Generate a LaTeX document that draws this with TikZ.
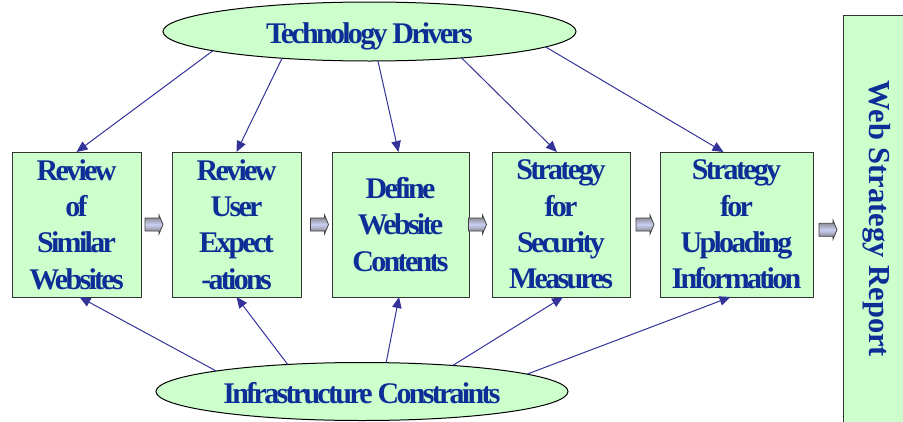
\documentclass[tikz,border=0pt]{standalone}
\usepackage{fontspec}
\setmainfont{Liberation Serif}
\usetikzlibrary{arrows.meta,calc,shapes.geometric}

\definecolor{boxfill}{RGB}{204,255,204}
\definecolor{inkblue}{RGB}{12,46,150}
\definecolor{linkblue}{RGB}{51,51,153}
\definecolor{arrowmid}{RGB}{204,208,242}

% condensed bold serif used for the stage and driver labels
\newcommand{\tightbold}{\bfseries\fontsize{30}{36.3}\selectfont\addfontfeatures{LetterSpace=-9}}

\tikzset{
  stage/.style={draw=black!80, line width=1pt, fill=boxfill, text=inkblue,
    align=center, inner sep=0pt, outer sep=0pt, minimum height=145pt, font=\tightbold},
  driver/.style={ellipse, draw=black, line width=1pt, fill=boxfill, text=inkblue,
    inner sep=0pt, outer sep=0pt, text height=23pt, text depth=0pt, font=\tightbold},
  link/.style={draw=linkblue, line width=1pt, -{Triangle[length=11pt,width=9.5pt]}},
  pics/blockarrow/.style={code={
    \shade[top color=black!55, bottom color=black!55, middle color=arrowmid,
           draw=black!75, line width=0.8pt]
      (-9,-6.5) -- (5,-6.5) -- (5,-9.5) -- (9,0) -- (5,9.5) -- (5,6.5) -- (-9,6.5) -- cycle;
  }}
}

\begin{document}
\begin{tikzpicture}[x=1pt,y=-1pt]
\useasboundingbox (0,0) rectangle (903,421);
\clip (0,0) rectangle (903,421);

% report column on the right
\node[draw=black!80, line width=1pt, fill=boxfill, minimum width=90pt, minimum height=440pt,
      anchor=north west, inner sep=0pt, outer sep=0pt] (rep) at (843,15) {};
\node[rotate=-90, text=inkblue, font=\bfseries\fontsize{30.5}{36}\selectfont] (reptxt) at (877,219) {Web Strategy Report};

% process stages
\node[stage, minimum width=129pt] (b1) at (76.5,224.5) {Review\\of\\Similar\\Websites};
\node[stage, minimum width=129pt] (b2) at (236.5,224.5) {Review\\User\\Expect\\-ations};
\node[stage, minimum width=137pt] (b3) at (400.5,224.5) {Define\\Website\\Contents};
\node[stage, minimum width=138pt] (b4) at (561,224.5) {Strategy\\for\\Security\\Measures};
\node[stage, minimum width=153pt] (b5) at (736.5,224.5) {Strategy\\for\\Uploading\\Information};

% drivers and constraints
\node[driver, minimum width=413pt, minimum height=59pt] (tech) at (369.5,31.5) {Technology Drivers};
\node[driver, minimum width=412pt, minimum height=58pt] (infra) at (362,391.5) {Infrastructure Constraints};

% flow between stages
\pic at ($(b1.east)!0.5!(b2.west)+(-2.5,0)$) {blockarrow};
\pic at ($(b2.east)!0.5!(b3.west)+(3,0)$) {blockarrow};
\pic at ($(b3.east)!0.5!(b4.west)+(-3,0)$) {blockarrow};
\pic at ($(b4.east)!0.5!(b5.west)$) {blockarrow};
\pic at ($(b5.east)!0.5!(rep.west)$) {blockarrow};

% influences from the top
\draw[link] (tech.187) -- (b1.north);
\draw[link] (tech.197.5) -- (b2.north);
\draw[link] (tech.286) -- ($(b3.north)+(-2,0)$);
\draw[link] (tech.344) -- ($(b4.north)+(-4,0)$);
\draw[link] (tech.355) -- ($(b5.north)+(-13,0)$);

% influences from the bottom
\draw[link] (infra.172.7) -- ($(b1.south)+(3,0)$);
\draw[link] (infra.160.8) -- (b2.south);
\draw[link] (infra.50) -- ($(b3.south)+(-1.5,0)$);
\draw[link] (infra.16) -- ($(b4.south)+(2,0)$);
\draw[link] (infra.6.6) -- ($(b5.south)+(-6,0)$);
\end{tikzpicture}
\end{document}
